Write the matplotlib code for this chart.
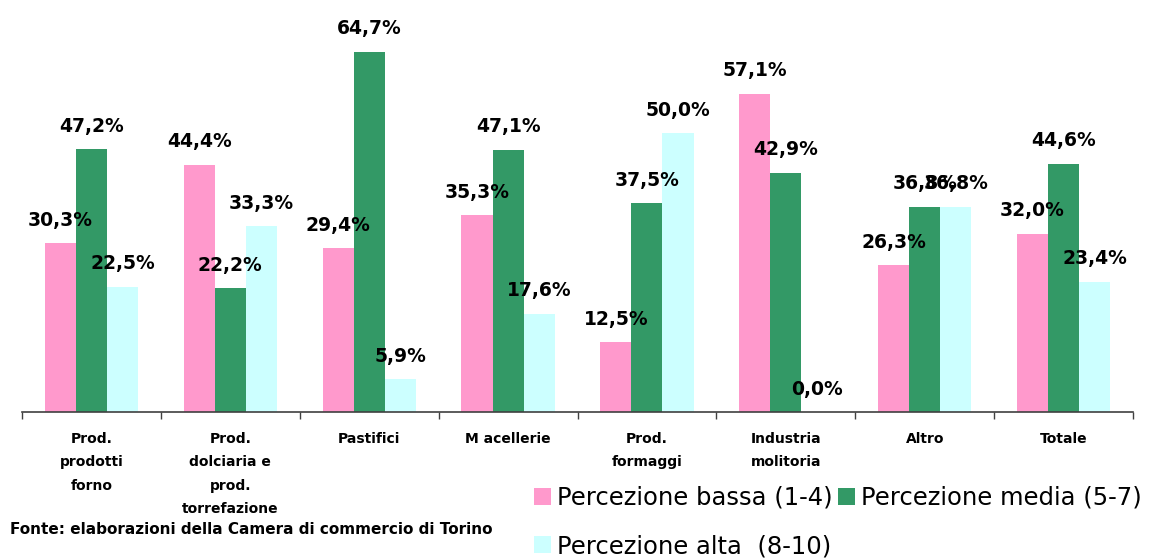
import matplotlib
matplotlib.use("Agg")
import matplotlib.pyplot as plt
import numpy as np
from matplotlib.patches import Patch

categories = ["Prod.\nprodotti\nforno", "Prod.\ndolciaria e\nprod.\ntorrefazione", "Pastifici",
              "M acellerie", "Prod.\nformaggi", "Industria\nmolitoria", "Altro", "Totale"]
bassa = [30.3, 44.4, 29.4, 35.3, 12.5, 57.1, 26.3, 32.0]
media = [47.2, 22.2, 64.7, 47.1, 37.5, 42.9, 36.8, 44.6]
alta = [22.5, 33.3, 5.9, 17.6, 50.0, 0.0, 36.8, 23.4]
series_names = ["Percezione bassa (1-4)", "Percezione media (5-7)", "Percezione alta  (8-10)"]
colors = ["#FF99CC", "#339966", "#CCFFFF"]
source = "Fonte: elaborazioni della Camera di commercio di Torino"

fig = plt.figure(figsize=(11.57, 5.60), dpi=100)
ax = fig.add_axes([22/1157, 1-412/560, (1133-22)/1157, (412-22)/560])
x = np.arange(len(categories))
w = 0.224
for k, (vals, col) in enumerate(zip([bassa, media, alta], colors)):
    ax.bar(x + (k-1)*w, vals, w, color=col, edgecolor='none', zorder=2)
    for xi, v in zip(x + (k-1)*w, vals):
        ax.annotate(f"{v:.1f}%".replace('.', ','), (xi, v), xytext=(0, 23),
                    textcoords='offset pixels',
                    ha='center', va='center', fontsize=13.5, fontweight='bold',
                    family='DejaVu Sans', color='black', zorder=3)

ax.set_xlim(-0.5, len(categories)-0.5)
ax.set_ylim(0, 70)
for s in ['top', 'right', 'left']:
    ax.spines[s].set_visible(False)
ax.spines['bottom'].set_color('#404040')
ax.spines['bottom'].set_linewidth(1.2)
ax.set_yticks([])
ax.set_xticks(np.arange(len(categories)+1)-0.5)
ax.set_xticklabels([])
ax.tick_params(axis='x', length=5, color='#404040', width=1)
for xi, lab in zip(x, categories):
    ax.text(xi, -3.6, lab, ha='center', va='top', fontsize=10, fontweight='bold',
            family='DejaVu Sans', linespacing=1.85, transform=ax.transData)

fig.text(10/1157, 1-530/560, source, ha='left', va='center', fontsize=11,
         fontweight='bold', family='DejaVu Sans')

handles = [Patch(facecolor=colors[0]), Patch(facecolor=colors[2]), Patch(facecolor=colors[1])]
labels = [series_names[0], series_names[2], series_names[1]]
fig.legend(handles, labels, ncol=2, loc='upper left', bbox_to_anchor=(534/1157, 1-486/560),
           frameon=False, handlelength=0.7, handleheight=0.7,
           handletextpad=0.25, columnspacing=0.2, labelspacing=1.0, borderpad=0,
           borderaxespad=0, prop={'family': 'DejaVu Sans', 'size': 17.5})

fig.savefig("out.png", dpi=100)
